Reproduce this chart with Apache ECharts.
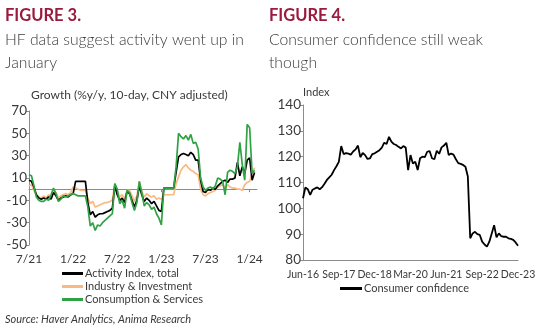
<!DOCTYPE html>
<html>
<head>
<meta charset="utf-8">
<script src="https://cdn.jsdelivr.net/npm/echarts@6/dist/echarts.min.js"></script>
<style>
  html, body { margin: 0; padding: 0; background: #fff; }
  #chart { width: 560px; height: 326px; }
</style>
</head>
<body>
<div id="chart"></div>
<script>
  // Figure 3: high-frequency activity, 10-day periods from 7/21
  const hfTickLabels = ['7/21', '1/22', '7/22', '1/23', '7/23', '1/24']
  const activityTotal = [
    8, 7, 2, -5, -8, -9, -8, -9, -7, -9, -3, -6, -10, -8, -7, -6, -7, -5, -4, 7,
    7, 7, 7, 7, -12, -23, -20, -25, -23, -22, -22, -21, -20, -19, -17, 3, -5, -10, -8, -12,
    -2, -4, -10, -16, -10, 3, -5, -11, -8, -10, -13, -11, -15, -19, -20, 1, 1, 1, 1, 1,
    15, 29, 31, 32, 31, 30, 33, 31, 26, 26, 8, -2, -3, 0, -1, 1, 0, 3, 5, 7,
    8, 6, 9, 9, 10, 24, 12, 20, 14, 26, 28, 8, 15
  ]
  const industryInvestment = [
    3, 4, -1, -5, -7, -8, -6, -8, -5, -7, -2, -3, -8, -6, -5, -4, -5, -3, 2, 1,
    0, -1, -1, -1, -8, -13, -11, -16, -15, -14, -13, -12, -12, -11, -10, 5, -2, -7, -5, -9,
    -1, -1, -6, -11, -6, 7, -2, -7, -4, -6, -7, -6, -9, -8, -9, -5, -5, -5, -5, -5,
    5, 11, 17, 20, 22, 19, 17, 16, 14, 13, 0, -5, -6, -4, -3, -2, -1, 2, 3, 4,
    1, 4, 2, 1, 1, 0, 0, -1, 4, 6, 7, 15, 19
  ]
  const consumptionServices = [
    13, 12, 3, -7, -10, -11, -11, -9, -10, -5, 1, -4, -11, -9, -6, -7, -6, -5, -4, -5,
    -6, -6, -6, -6, -16, -33, -30, -37, -32, -33, -30, -28, -26, -24, -22, 5, 0, -13, -10, -17,
    -1, -3, -12, -19, -12, 7, -3, -15, -12, -14, -18, -16, -22, -26, -32, 1, 1, 1, 1, 1,
    20, 50, 47, 45, 48, 44, 49, 41, 42, 36, 10, 2, -1, 1, 2, 0, 3, 10, 9, 7,
    -5, 15, 17, 16, 14, 20, 42, 22, 8, 58, 55, 14, 17
  ]

  // Figure 4: consumer confidence, monthly Jun-16 .. Dec-23
  const confidence = [
    103.9, 108.1, 107.4, 105.2, 107.2, 107.7, 108.1, 107.4, 108.2, 109.5,
    111, 112, 113, 114.8, 116.3, 118, 124.1, 121, 121.4, 121.2,
    120.8, 122, 122.8, 124.3, 119.8, 121.4, 120.6, 119.1, 119.3, 121,
    121.3, 121.9, 122.5, 123.5, 125.4, 124.9, 127.7, 125.8, 124.9, 124.5,
    123.8, 123.2, 124.1, 123.5, 114.8, 120.6, 117.4, 118, 114.8, 119.4,
    120, 119.8, 121.9, 122.2, 119.4, 119, 122.3, 121.1, 123.6, 124.3,
    125.4, 120.6, 121.2, 120.8, 119, 117.5, 117.2, 116.8, 116.1, 112.3,
    88.4, 90.3, 90.9, 90, 89.7, 87.1, 86, 85.2, 87.1, 90.3,
    93.5, 88.8, 90.3, 89.2, 89, 89, 88.4, 88.2, 87.8, 86.8,
    85.5
  ]

  // 10-day period labels, three per month
  const hfDates = []
  for (let i = 0; i < 94; i++) {
    const m = 6 + Math.floor(i / 3)
    const y = 21 + Math.floor(m / 12)
    hfDates.push((m % 12 + 1) + '/' + y + '#' + (i % 3))
  }
  const monthNames = ['Jan', 'Feb', 'Mar', 'Apr', 'May', 'Jun', 'Jul', 'Aug', 'Sep', 'Oct', 'Nov', 'Dec']
  const months = []
  for (let i = 0; i < confidence.length; i++) {
    const m = 5 + i
    months.push(monthNames[m % 12] + '-' + (16 + Math.floor(m / 12)))
  }

  const font = 'Lato'
  const txt = '#3a3a3a'
  const axisGrey = '#8c8c8c'
  const chart = echarts.init(document.getElementById('chart'))

  function hfLine(name, data, color, z) {
    return {
      name: name, type: 'line', xAxisIndex: 0, yAxisIndex: 0,
      data: data, showSymbol: false, symbol: 'none', z: z,
      lineStyle: { color: color, width: 1.7 }, itemStyle: { color: color }
    }
  }

  chart.setOption({
    animation: false,
    textStyle: { fontFamily: font },
    graphic: [
      { type: 'text', left: 5, top: 7, style: { text: 'FIGURE 3.', font: 'bold 16.5px Lato', fill: '#9b1b3e' } },
      { type: 'text', left: 5, top: 32, style: { text: 'HF data suggest activity went up in', font: '300 15.7px Lato', fill: txt } },
      { type: 'text', left: 5, top: 55, style: { text: 'January', font: '300 15.7px Lato', fill: txt } },
      { type: 'text', left: 269, top: 7, style: { text: 'FIGURE 4.', font: 'bold 16.5px Lato', fill: '#9b1b3e' } },
      { type: 'text', left: 269, top: 32, style: { text: 'Consumer confidence still weak', font: '300 15.7px Lato', fill: txt } },
      { type: 'text', left: 269, top: 55, style: { text: 'though', font: '300 15.7px Lato', fill: txt } },
      { type: 'text', left: 31, top: 89, style: { text: 'Growth (%y/y, 10-day, CNY adjusted)', font: '12px Lato', fill: txt } },
      { type: 'text', left: 5, top: 314, style: { text: 'Source: Haver Analytics, Anima Research', font: 'italic 11px Lato', fill: txt } }
    ],
    legend: [
      {
        orient: 'vertical', left: 57, top: 262, itemGap: 0, itemWidth: 21, itemHeight: 3, icon: 'rect',
        data: ['Activity Index, total', 'Industry & Investment', 'Consumption & Services'],
        textStyle: { fontFamily: font, fontSize: 11, color: txt, padding: [0, 0, 0, -3], lineHeight: 13 }
      },
      {
        left: 335, top: 278, itemWidth: 22, itemHeight: 3, icon: 'rect',
        data: ['Consumer confidence'],
        textStyle: { fontFamily: font, fontSize: 11, color: txt, padding: [0, 0, 0, -3] }
      }
    ],
    grid: [
      { left: 29, top: 111, width: 228, height: 134 },
      { left: 303, top: 105, width: 215, height: 155 }
    ],
    xAxis: [
      {
        gridIndex: 0, type: 'category', data: hfDates, boundaryGap: false,
        axisLine: { show: false, onZero: false }, axisTick: { show: false },
        axisLabel: {
          color: txt, fontSize: 12, margin: 8,
          interval: function (i) { return i % 18 === 0 },
          formatter: function (v, i) { return hfTickLabels[i / 18] }
        }
      },
      {
        gridIndex: 0, type: 'category', data: hfDates, boundaryGap: false, position: 'bottom',
        axisLine: { show: true, onZero: true, lineStyle: { color: axisGrey, width: 1 } },
        axisTick: { show: true, length: 3, interval: function (i) { return i % 18 === 0 }, lineStyle: { color: axisGrey } },
        axisLabel: { show: false }
      },
      {
        gridIndex: 1, type: 'category', data: months, boundaryGap: false,
        axisLine: { lineStyle: { color: axisGrey } }, axisTick: { show: false },
        axisLabel: { color: txt, fontSize: 10.5, margin: 9, interval: 14 }
      }
    ],
    yAxis: [
      {
        gridIndex: 0, type: 'value', min: -50, max: 70, interval: 20,
        axisLine: { show: true, lineStyle: { color: axisGrey } },
        axisTick: { show: true, length: 3, lineStyle: { color: axisGrey } },
        axisLabel: { color: txt, fontSize: 13.5, margin: 2 },
        splitLine: { show: false }
      },
      {
        gridIndex: 1, type: 'value', min: 80, max: 140, interval: 10,
        name: 'Index', nameLocation: 'end', nameGap: 5,
        nameTextStyle: { color: txt, fontSize: 11, align: 'left', padding: [0, 0, 0, 0] },
        axisLine: { show: true, lineStyle: { color: axisGrey } },
        axisTick: { show: true, length: 3, lineStyle: { color: axisGrey } },
        axisLabel: { color: txt, fontSize: 13.5, margin: 2 },
        splitLine: { show: false }
      }
    ],
    series: [
      hfLine('Industry & Investment', industryInvestment, '#f9b981', 2),
      hfLine('Activity Index, total', activityTotal, '#000000', 3),
      hfLine('Consumption & Services', consumptionServices, '#2fa244', 4),
      {
        name: 'Consumer confidence', type: 'line', xAxisIndex: 2, yAxisIndex: 1,
        data: confidence, showSymbol: false, symbol: 'none',
        lineStyle: { color: '#000', width: 1.8 }, itemStyle: { color: '#000' }
      }
    ]
  })
</script>
</body>
</html>
